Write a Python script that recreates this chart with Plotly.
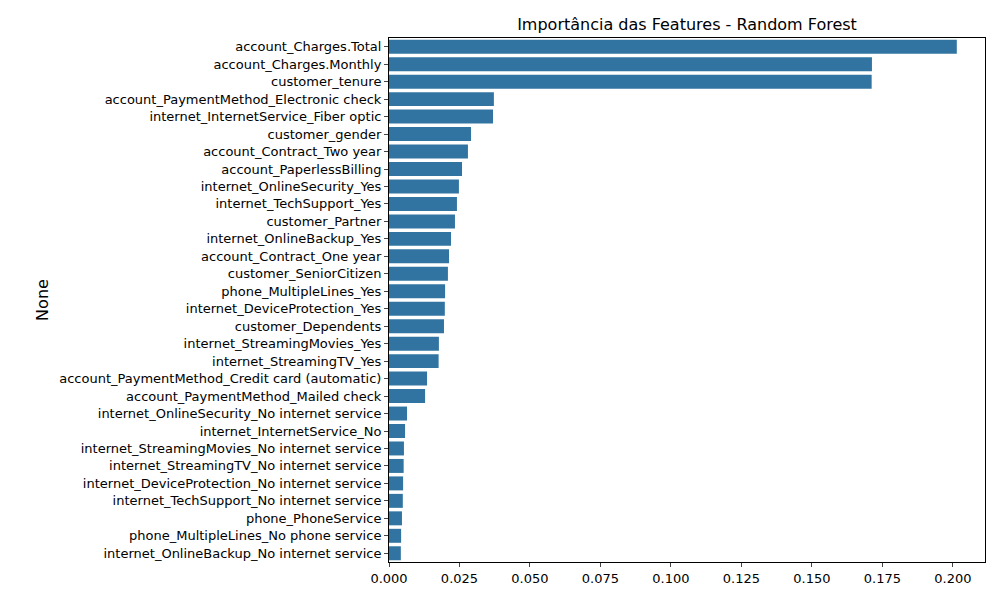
import plotly.graph_objects as go

features = [
    "account_Charges.Total", "account_Charges.Monthly", "customer_tenure",
    "account_PaymentMethod_Electronic check", "internet_InternetService_Fiber optic",
    "customer_gender", "account_Contract_Two year", "account_PaperlessBilling",
    "internet_OnlineSecurity_Yes", "internet_TechSupport_Yes", "customer_Partner",
    "internet_OnlineBackup_Yes", "account_Contract_One year", "customer_SeniorCitizen",
    "phone_MultipleLines_Yes", "internet_DeviceProtection_Yes", "customer_Dependents",
    "internet_StreamingMovies_Yes", "internet_StreamingTV_Yes",
    "account_PaymentMethod_Credit card (automatic)", "account_PaymentMethod_Mailed check",
    "internet_OnlineSecurity_No internet service", "internet_InternetService_No",
    "internet_StreamingMovies_No internet service", "internet_StreamingTV_No internet service",
    "internet_DeviceProtection_No internet service", "internet_TechSupport_No internet service",
    "phone_PhoneService", "phone_MultipleLines_No phone service",
    "internet_OnlineBackup_No internet service",
]
importances = [
    0.2014, 0.1713, 0.1712, 0.0372, 0.0369, 0.0291, 0.0280, 0.0259, 0.0248, 0.0241,
    0.0234, 0.0220, 0.0213, 0.0209, 0.0199, 0.0198, 0.0195, 0.0177, 0.0176, 0.0135,
    0.0128, 0.0064, 0.0057, 0.0053, 0.0052, 0.0050, 0.0049, 0.0046, 0.0043, 0.0042,
]
x_ticks = [0, 0.025, 0.05, 0.075, 0.1, 0.125, 0.15, 0.175, 0.2]

fig = go.Figure(go.Bar(x=importances, y=features, orientation="h",
                       marker=dict(color="#3274a1", line_width=0)))

# page body has an 8px margin, so the figure is sized to fit inside it
fig.update_layout(
    width=984, height=584,
    margin=dict(l=381, r=7, t=30, b=30),
    plot_bgcolor="white", paper_bgcolor="white",
    font=dict(family="DejaVu Sans", size=13, color="black"),
    title=dict(text="Importância das Features - Random Forest", x=(381 + 977) / 2 / 984,
               xanchor="center", y=1 - 16 / 584, yanchor="middle", font=dict(size=16)),
    bargap=0.2, showlegend=False,
)
fig.update_xaxes(range=[0, 0.2114], tickvals=x_ticks,
                 ticktext=[f"{v:.3f}" for v in x_ticks],
                 showgrid=False, zeroline=False, showline=True, linecolor="black",
                 linewidth=1, mirror=True, ticks="outside", ticklen=4)
fig.update_yaxes(autorange="reversed", title_text="None", title_standoff=6,
                 showgrid=False, showline=True, linecolor="black", linewidth=1,
                 mirror=True, ticks="outside", ticklen=4)

fig.write_html("out.html")
